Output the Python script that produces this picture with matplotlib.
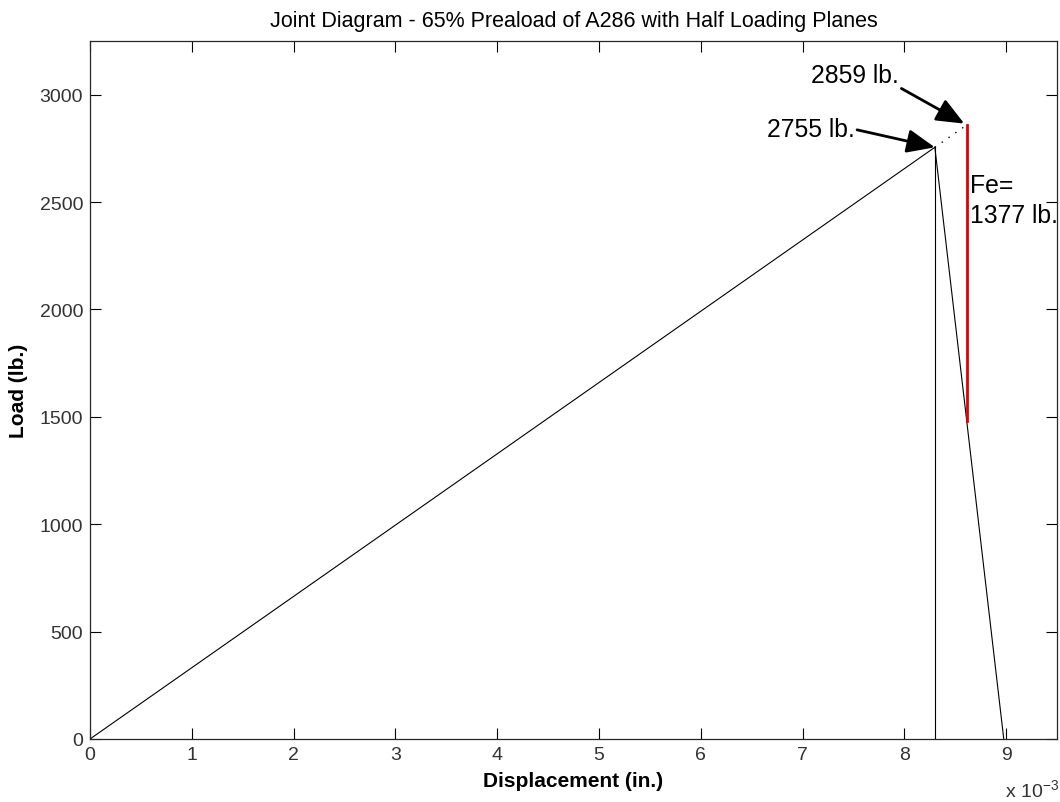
import matplotlib
matplotlib.use("Agg")
import matplotlib.pyplot as plt
from matplotlib.ticker import FuncFormatter

# ---- data ----
peak_disp = 8.30e-3        # in., preload displacement
peak_load = 2755           # lb., preload
ext_disp = 8.613e-3        # in., displacement with external load
ext_load = 2859            # lb., bolt load
member_load = 1482         # lb., remaining member load
end_disp = 8.977e-3        # in., member zero-load displacement
Fe = ext_load - member_load  # 1377 lb.

bolt_x = [0.0, peak_disp]
bolt_y = [0, peak_load]
ext_x = [peak_disp, ext_disp]
ext_y = [peak_load, ext_load]
member_x = [peak_disp, end_disp]
member_y = [peak_load, 0]
vert_x = [peak_disp, peak_disp]
vert_y = [0, peak_load]
fe_x = [ext_disp, ext_disp]
fe_y = [member_load, ext_load]

xticks = [i * 1e-3 for i in range(10)]
yticks = [0, 500, 1000, 1500, 2000, 2500, 3000]

plt.rcParams['font.family'] = ['Liberation Sans', 'DejaVu Sans']
plt.rcParams['mathtext.fontset'] = 'custom'
plt.rcParams['mathtext.rm'] = 'Liberation Sans'
plt.rcParams['mathtext.it'] = 'Liberation Sans'

fig = plt.figure(figsize=(10.6, 8.03), dpi=100)
ax = fig.add_axes([90/1060, 63/803, 967/1060, 698/803])

ax.plot(bolt_x, bolt_y, color='black', lw=0.8)
ax.plot(vert_x, vert_y, color='black', lw=0.8)
ax.plot(member_x, member_y, color='black', lw=0.8)
ax.plot(ext_x, ext_y, color='black', lw=1.0, ls=(0, (1, 5)))
ax.plot(fe_x, fe_y, color='#e00000', lw=2.0)

ax.set_xlim(0, 9.5e-3)
ax.set_ylim(0, 3250)
ax.set_xticks(xticks)
ax.set_yticks(yticks)
ax.xaxis.set_major_formatter(FuncFormatter(lambda v, p: f"{v*1e3:.0f}"))
ax.tick_params(direction='in', length=8, width=0.8, top=True, right=True,
               labelsize=14, labelcolor='#333333', pad=5)
for s in ax.spines.values():
    s.set_linewidth(0.9)
    s.set_color('#262626')

ax.set_title('Joint Diagram - 65% Preaload of A286 with Half Loading Planes',
             fontsize=15.5, pad=11)
ax.set_xlabel('Displacement (in.)', fontsize=15, fontweight='bold', labelpad=6)
ax.set_ylabel('Load (lb.)', fontsize=15, fontweight='bold', labelpad=8)

arrow = dict(arrowstyle='-|>,head_length=0.85,head_width=0.36', lw=2,
             color='black', mutation_scale=20, shrinkA=0, shrinkB=0)

a1 = dict(arrow, relpos=(1.0, 0.5))
ax.annotate(f'{peak_load} lb.', xy=(peak_disp, peak_load), xytext=(-58, 8),
            textcoords='offset points', ha='right', va='baseline',
            fontsize=17.8, arrowprops=a1)
a2 = dict(arrow, relpos=(1.0, 0.0), shrinkB=2)
ax.annotate(f'{ext_load} lb.', xy=(ext_disp, ext_load), xytext=(-49, 31),
            textcoords='offset points', ha='right', va='baseline',
            fontsize=17.8, arrowprops=a2)

ax.annotate('Fe=', xy=(ext_disp, ext_load), xytext=(2.5, -48),
            textcoords='offset points', ha='left', va='baseline', fontsize=17.8)
ax.annotate(f'{Fe} lb.', xy=(ext_disp, ext_load), xytext=(2.5, -70),
            textcoords='offset points', ha='left', va='baseline', fontsize=17.8)

fig.text(1005/1060, 1 - 797/803, r'x 10$^{-3}$', fontsize=14, color='#333333',
         ha='left', va='baseline')

fig.savefig('out.png', dpi=100)
